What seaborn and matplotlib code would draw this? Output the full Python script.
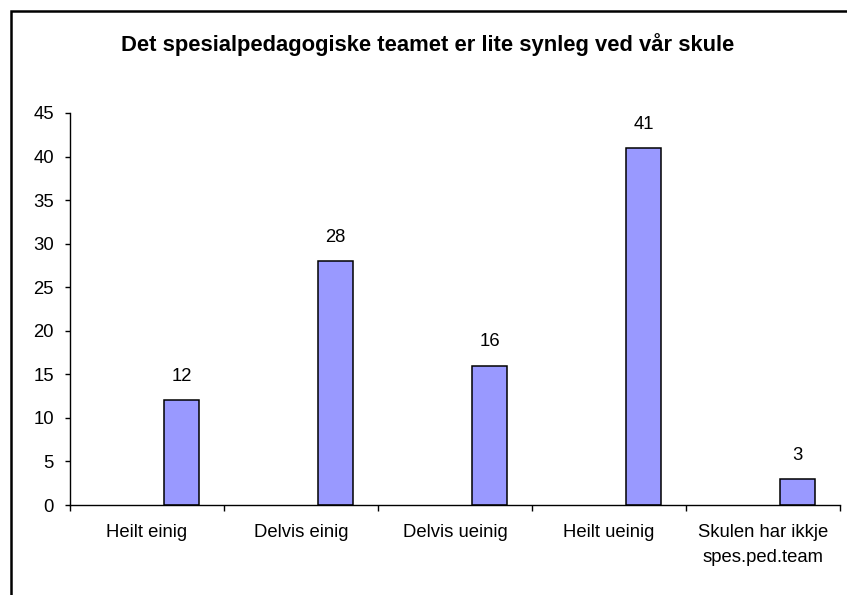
import pandas as pd
import seaborn as sns
import matplotlib.pyplot as plt
from matplotlib.patches import Rectangle
from matplotlib.ticker import FixedLocator

categories = ["Heilt einig", "Delvis einig", "Delvis ueinig", "Heilt ueinig",
              "Skulen har ikkje\nspes.ped.team"]
values = [12, 28, 16, 41, 3]
title = "Det spesialpedagogiske teamet er lite synleg ved vår skule"

df = pd.DataFrame({"kategori": categories, "antal": values, "serie": "Serie1"})

sns.set_style("white")
plt.rcParams['font.family'] = ['Liberation Sans', 'DejaVu Sans']
plt.rcParams['text.color'] = 'black'
plt.rcParams['xtick.color'] = 'black'
plt.rcParams['ytick.color'] = 'black'

fig = plt.figure(figsize=(8.47, 5.95), dpi=100)
ax = fig.add_axes([70 / 847, 90 / 595, 770 / 847, 392 / 595])

# empty first series to push bars right, like the Excel original
sns.barplot(data=df, x="kategori", y="antal", hue="serie", hue_order=["", "Serie1"],
            palette={"": "#9999FF", "Serie1": "#9999FF"}, width=0.9, gap=0.5,
            dodge=True, saturation=1, edgecolor="black", linewidth=1.1,
            legend=False, ax=ax)

for c in ax.containers:
    ax.bar_label(c, fmt="%g", padding=11, fontsize=13.3)

ax.set_xlim(-0.5, len(categories) - 0.5)
ax.set_ylim(0, 45)
ax.set_yticks(range(0, 46, 5))
ax.set_xticks(range(len(categories)), categories, linespacing=1.55)
ax.set_xlabel("")
ax.set_ylabel("")
ax.xaxis.set_minor_locator(FixedLocator([i - 0.5 for i in range(len(categories) + 1)]))
ax.tick_params(axis="x", which="major", length=0, pad=14, labelsize=13.3)
ax.tick_params(axis="x", which="minor", length=4, width=1, direction="out", bottom=True)
ax.tick_params(axis="y", length=3.5, width=1, direction="out", left=True, pad=8, labelsize=13.3)

for s in ["top", "right"]:
    ax.spines[s].set_visible(False)
for s in ["left", "bottom"]:
    ax.spines[s].set_color("black")
    ax.spines[s].set_linewidth(1)

fig.text(428 / 847, 1 - 45 / 595, title, ha="center", va="center",
         fontsize=15.8, fontweight="bold")

# outer chart border (cut off at right/bottom in the original)
fig.patches.append(Rectangle((10.5 / 847, -0.1), 1.2, 1 - 10.5 / 595 + 0.1,
                             transform=fig.transFigure, fill=False,
                             edgecolor="black", linewidth=1.8))

fig.savefig("out.png", dpi=100)
